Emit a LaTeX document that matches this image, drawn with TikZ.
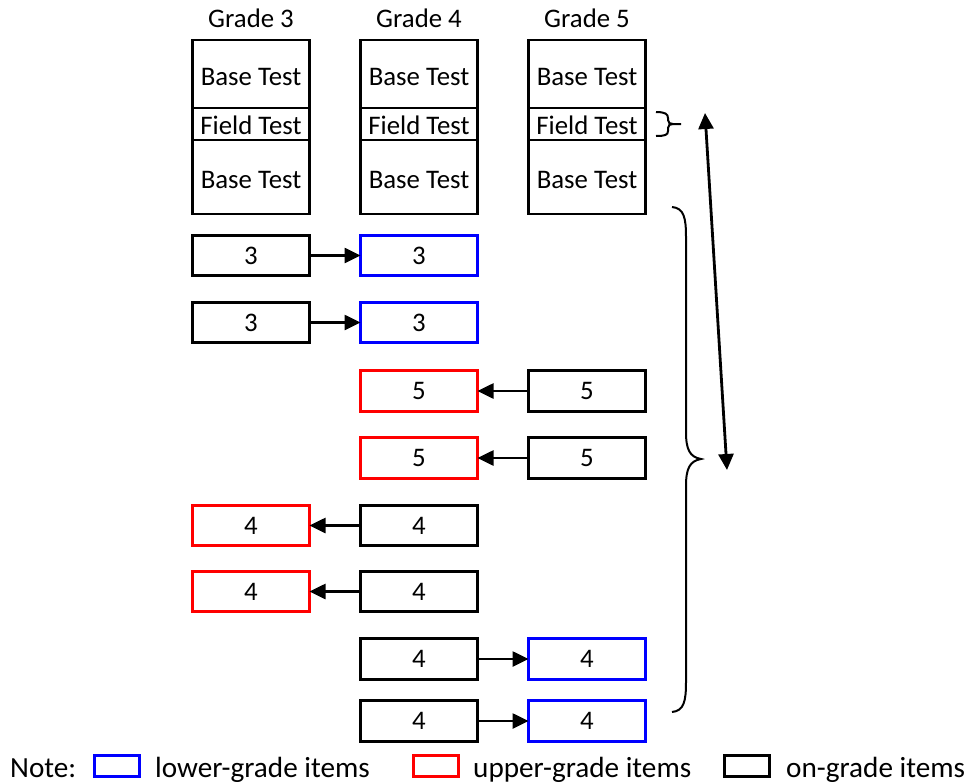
\documentclass[tikz,border=0pt]{standalone}
\usepackage{fontspec}
\setmainfont{Carlito}
\usetikzlibrary{arrows.meta,positioning}
\definecolor{LowBlue}{RGB}{0,0,255}
\definecolor{UpRed}{RGB}{255,0,0}
\tikzset{
  stackbox/.style={draw,line width=2.6pt,minimum width=117pt,inner sep=0pt,outer sep=0pt,text height=22pt,text depth=0pt},
  onbox/.style={draw,line width=2.6pt,minimum width=117pt,minimum height=40.5pt,inner sep=0pt,outer sep=0pt},
  lowbox/.style={onbox,draw=LowBlue},
  upbox/.style={onbox,draw=UpRed},
  legbox/.style={draw,line width=2.6pt,minimum width=45pt,minimum height=21.5pt,inner sep=0pt},
  legtext/.style={anchor=base west,inner sep=0pt,font=\fontsize{29.2}{33}\selectfont},
  arr/.style={-{Triangle[length=16pt,width=15pt]},line width=2.6pt},
  arrD/.style={{Triangle[length=16pt,width=15pt]}-{Triangle[length=16pt,width=15pt]},line width=2.8pt},
  brace/.style={line width=2pt},
}

\begin{document}
\begin{tikzpicture}[x=1pt, y=-1pt, font=\fontsize{26.8}{31}\selectfont]
  \useasboundingbox (0,0) rectangle (970,784);

  % --- test forms per grade ---
  \node[stackbox, minimum height=68pt] (b3a) at (251,74) {Base Test};
  \node[stackbox, minimum height=32pt, below=0pt of b3a] (f3) {Field Test};
  \node[stackbox, minimum height=74pt, below=0pt of f3] (b3b) {Base Test};
  \node[inner sep=0pt, above=12pt of b3a] (g3) {Grade 3};

  \node[stackbox, minimum height=68pt, right=51pt of b3a] (b4a) {Base Test};
  \node[stackbox, minimum height=32pt, below=0pt of b4a] (f4) {Field Test};
  \node[stackbox, minimum height=74pt, below=0pt of f4] (b4b) {Base Test};
  \node[inner sep=0pt, above=12pt of b4a] (g4) {Grade 4};

  \node[stackbox, minimum height=68pt, right=51pt of b4a] (b5a) {Base Test};
  \node[stackbox, minimum height=32pt, below=0pt of b5a] (f5) {Field Test};
  \node[stackbox, minimum height=74pt, below=0pt of f5] (b5b) {Base Test};
  \node[inner sep=0pt, above=12pt of b5a] (g5) {Grade 5};

  % --- linking items ---
  \node[onbox] (r1a) at (251,255.5) {3};
  \node[lowbox, right=51pt of r1a] (r1b) {3};
  \draw[arr] (r1a) -- (r1b);

  \node[onbox] (r2a) at (251,322.5) {3};
  \node[lowbox, right=51pt of r2a] (r2b) {3};
  \draw[arr] (r2a) -- (r2b);

  \node[upbox] (r3a) at (419,391) {5};
  \node[onbox, right=51pt of r3a] (r3b) {5};
  \draw[arr] (r3b) -- (r3a);

  \node[upbox] (r4a) at (419,458) {5};
  \node[onbox, right=51pt of r4a] (r4b) {5};
  \draw[arr] (r4b) -- (r4a);

  \node[upbox] (r5a) at (251,525.5) {4};
  \node[onbox, right=51pt of r5a] (r5b) {4};
  \draw[arr] (r5b) -- (r5a);

  \node[upbox] (r6a) at (251,591.5) {4};
  \node[onbox, right=51pt of r6a] (r6b) {4};
  \draw[arr] (r6b) -- (r6a);

  \node[onbox] (r7a) at (419,659) {4};
  \node[lowbox, right=51pt of r7a] (r7b) {4};
  \draw[arr] (r7a) -- (r7b);

  \node[onbox] (r8a) at (419,721) {4};
  \node[lowbox, right=51pt of r8a] (r8b) {4};
  \draw[arr] (r8a) -- (r8b);

  % braces
  \draw[brace] (656,112) .. controls (665,112) and (668,114) .. (668,118) -- (668,120)
    .. controls (668,123) and (670,124) .. (673,124) -- (681,124);
  \draw[brace] (673,124) .. controls (670,124) and (668,125) .. (668,128) -- (668,131)
    .. controls (668,135) and (665,136) .. (656,136);

  \draw[brace] (672,207) .. controls (684,208) and (686,218) .. (686,237) -- (686,432)
    .. controls (686,450) and (690,457) .. (701,459)
    .. controls (690,461) and (686,468) .. (686,486) -- (686,682)
    .. controls (686,701) and (684,711) .. (672,712);

  % double arrow between the braces
  \coordinate (arrTop) at (705,113);
  \coordinate (arrBot) at (727,470);
  \draw[arrD] (arrTop) -- (arrBot);

  % --- legend ---
  \node[legtext] (note) at (10,777) {Note:};
  \node[legbox, draw=LowBlue] (kLow) at (117,766) {};
  \node[legtext] (tLow) at (155,777) {lower-grade items};
  \node[legbox, draw=UpRed] (kUp) at (436,766) {};
  \node[legtext] (tUp) at (473,777) {upper-grade items};
  \node[legbox] (kOn) at (747,766) {};
  \node[legtext] (tOn) at (786,777) {on-grade items};
\end{tikzpicture}
\end{document}
